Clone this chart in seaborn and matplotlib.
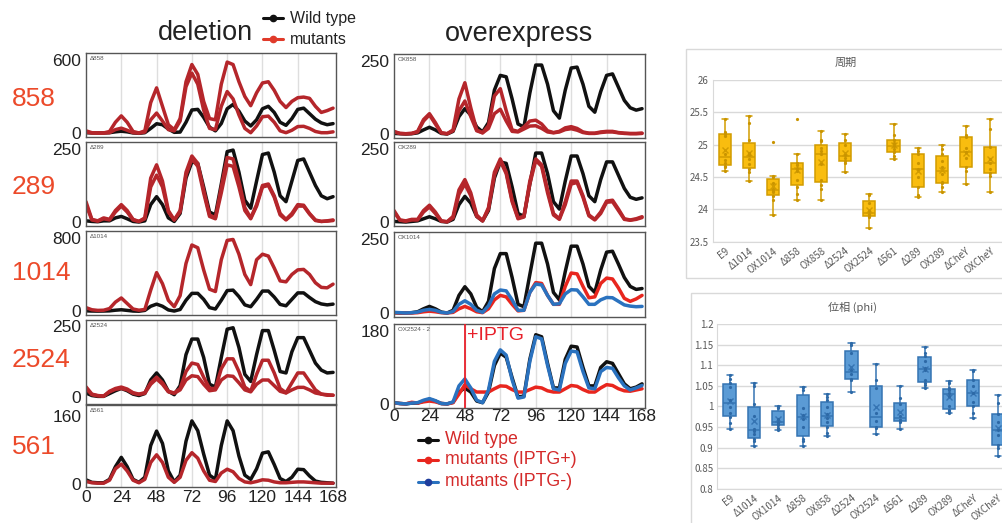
import numpy as np
import pandas as pd
import matplotlib
matplotlib.use("Agg")
import matplotlib.pyplot as plt
from matplotlib.lines import Line2D
from matplotlib.patches import Rectangle
import seaborn as sns

# ---------------- time-course data (every 4 h) ----------------
HOURS = list(range(0, 169, 4))
XTICKS = [0, 24, 48, 72, 96, 120, 144, 168]

D858_WT = [5, 3, 3, 3, 5, 12, 17, 12, 3, 0, 5, 40, 78, 70, 35, 8, 10, 90,
           190, 195, 130, 50, 20, 80, 200, 235, 180, 100, 60, 110,
           200, 220, 170, 90, 65, 120, 195, 205, 160, 115, 85, 70, 79]
D858_M1 = [20, 5, 3, 3, 15, 90, 142, 90, 15, 3, 20, 250, 370, 220, 70, 30, 120, 420,
           560, 480, 260, 120, 110, 400, 580, 560, 420, 300, 225, 330,
           410, 420, 350, 260, 210, 260, 290, 295, 285, 220, 170, 185, 205]
D858_M2 = [10, 3, 2, 2, 5, 30, 42, 25, 5, 2, 10, 110, 165, 100, 30, 20, 100, 380,
           490, 400, 190, 40, 30, 220, 340, 280, 150, 40, 5, 60,
           135, 140, 90, 20, 5, 25, 55, 57, 40, 15, 5, 5, 12]

D289_WT = [5, 3, 2, 5, 5, 15, 20, 12, 3, 1, 5, 60, 87, 60, 15, 3, 30, 150,
           205, 200, 120, 35, 25, 130, 240, 245, 170, 75, 48, 140,
           230, 235, 170, 90, 70, 140, 210, 215, 170, 125, 90, 80, 87]
D289_M1 = [70, 10, 5, 15, 10, 40, 60, 40, 10, 3, 15, 150, 195, 140, 40, 8, 40, 170,
           225, 200, 110, 25, 15, 120, 220, 215, 140, 50, 15, 60,
           125, 130, 90, 30, 10, 30, 60, 58, 30, 8, 3, 5, 8]
D289_M2 = [60, 8, 4, 12, 8, 35, 55, 35, 8, 3, 12, 120, 160, 120, 35, 8, 35, 160,
           215, 190, 100, 20, 12, 100, 195, 190, 120, 40, 12, 55,
           120, 125, 85, 25, 8, 25, 55, 55, 28, 6, 3, 4, 6]

D1014_WT = [5, 3, 2, 3, 5, 12, 17, 10, 3, 1, 10, 55, 78, 55, 15, 3, 20, 120,
            195, 195, 130, 40, 25, 120, 225, 230, 160, 70, 50, 130,
            220, 220, 155, 75, 60, 130, 200, 200, 150, 105, 80, 70, 78]
D1014_M = [40, 17, 10, 12, 30, 100, 145, 85, 25, 12, 20, 230, 420, 300, 120, 50, 170, 520,
           720, 690, 450, 240, 215, 560, 770, 780, 620, 400, 290, 560,
           620, 600, 470, 330, 320, 400, 450, 455, 400, 310, 260, 255, 295]

D2524_WT = [14, 5, 2, 2, 12, 22, 30, 22, 10, 5, 12, 60, 85, 60, 20, 8, 40, 150,
            205, 205, 140, 45, 35, 140, 240, 245, 175, 80, 55, 150,
            235, 235, 165, 90, 85, 160, 210, 210, 165, 120, 95, 85, 87]
D2524_M1 = [36, 10, 5, 3, 20, 30, 35, 28, 15, 10, 15, 50, 70, 50, 20, 14, 30, 90,
            120, 115, 70, 30, 30, 100, 135, 135, 90, 35, 20, 80,
            130, 130, 85, 30, 15, 50, 85, 85, 55, 25, 10, 6, 6]
D2524_M2 = [30, 8, 4, 3, 18, 27, 30, 25, 13, 9, 13, 45, 64, 45, 18, 13, 25, 60,
            75, 72, 45, 22, 25, 60, 75, 73, 50, 25, 18, 45,
            60, 60, 40, 20, 14, 25, 34, 34, 25, 14, 10, 8, 6]

D561_WT = [9, 3, 2, 2, 10, 40, 62, 40, 10, 3, 15, 90, 124, 95, 30, 4, 20, 100,
           148, 125, 70, 20, 10, 90, 148, 125, 65, 20, 10, 35,
           72, 75, 45, 12, 5, 15, 34, 33, 18, 6, 3, 2, 1]
D561_M = [5, 2, 1, 1, 8, 35, 46, 30, 8, 2, 10, 50, 68, 50, 15, 3, 15, 55,
          73, 60, 30, 8, 5, 25, 34, 28, 12, 4, 2, 5,
          9, 8, 4, 2, 2, 3, 4, 4, 3, 2, 1, 1, 1]

OX858_WT = [3, 2, 1, 2, 5, 15, 24, 15, 3, 1, 10, 60, 87, 65, 25, 8, 40, 150,
            200, 195, 120, 35, 25, 140, 235, 235, 170, 80, 55, 150,
            225, 228, 170, 95, 75, 145, 200, 205, 160, 115, 90, 82, 87]
OX858_M1 = [10, 3, 2, 3, 10, 50, 70, 40, 5, 2, 15, 120, 175, 90, 15, 5, 30, 130,
            155, 80, 15, 10, 25, 45, 48, 35, 12, 6, 10, 22,
            26, 20, 8, 4, 4, 8, 10, 10, 6, 4, 3, 3, 4]
OX858_M2 = [8, 3, 2, 3, 8, 45, 66, 35, 5, 2, 12, 80, 113, 60, 12, 5, 20, 70,
            85, 45, 10, 8, 18, 28, 29, 20, 8, 5, 8, 16,
            19, 14, 6, 3, 3, 6, 8, 8, 5, 3, 2, 2, 3]

OX289_WT = [3, 2, 1, 3, 5, 12, 19, 12, 3, 1, 10, 60, 88, 65, 20, 5, 40, 150,
            205, 200, 120, 30, 20, 130, 235, 235, 165, 70, 45, 140,
            225, 225, 165, 90, 70, 145, 205, 205, 160, 115, 85, 78, 83]
OX289_M1 = [40, 8, 5, 10, 10, 40, 58, 35, 5, 2, 20, 110, 145, 100, 25, 5, 50, 170,
            215, 170, 75, 15, 20, 140, 215, 195, 110, 30, 12, 70,
            140, 140, 90, 25, 10, 35, 72, 75, 45, 12, 8, 12, 19]
OX289_M2 = [35, 7, 4, 8, 8, 35, 52, 30, 4, 2, 15, 95, 130, 90, 20, 5, 45, 160,
            208, 165, 70, 12, 18, 130, 210, 190, 100, 25, 10, 60,
            130, 135, 85, 22, 8, 30, 68, 70, 40, 10, 7, 10, 16]

OX1014_WT = [2, 1, 1, 2, 5, 15, 23, 15, 4, 1, 10, 60, 89, 65, 20, 5, 40, 150,
             200, 200, 120, 30, 22, 130, 235, 235, 165, 70, 45, 140,
             225, 225, 165, 90, 70, 145, 205, 208, 165, 120, 90, 80, 83]
OX1014_PLUS = [2, 1, 1, 1, 2, 5, 7, 5, 2, 1, 3, 15, 23, 15, 5, 2, 15, 45,
               60, 55, 30, 8, 10, 70, 103, 100, 60, 30, 30, 90,
               135, 132, 90, 52, 55, 100, 118, 115, 85, 50, 40, 48, 60]
OX1014_MINUS = [3, 2, 1, 2, 4, 10, 13, 10, 3, 1, 6, 30, 42, 30, 10, 3, 25, 65,
                78, 75, 45, 10, 10, 70, 98, 95, 60, 30, 32, 65,
                79, 78, 55, 30, 30, 45, 53, 52, 40, 28, 24, 22, 23]

OX2524_WT = [4, 2, 1, 3, 3, 8, 12, 8, 2, 1, 5, 30, 40, 30, 8, 4, 30, 95,
             125, 115, 65, 18, 20, 110, 170, 165, 100, 40, 40, 110,
             142, 140, 90, 45, 45, 90, 104, 100, 75, 50, 38, 42, 50]
OX2524_PLUS = [3, 2, 1, 5, 3, 6, 8, 6, 2, 1, 4, 25, 48, 38, 30, 30, 30, 38,
               45, 44, 36, 30, 30, 36, 42, 40, 33, 30, 30, 38,
               46, 44, 36, 30, 30, 40, 48, 46, 38, 33, 32, 35, 38]
OX2524_MINUS = [4, 2, 1, 3, 4, 10, 14, 9, 2, 1, 6, 45, 62, 40, 10, 4, 35, 105,
                133, 120, 60, 15, 18, 105, 165, 160, 95, 38, 35, 100,
                130, 128, 80, 40, 38, 80, 90, 88, 65, 45, 35, 40, 46]

DEL_NAMES = ["858", "289", "1014", "2524", "561"]
DEL_MAX = [600, 250, 800, 250, 160]
OX_TAGS = ["OX858", "OX289", "OX1014", "OX2524 - 2"]
OX_MAX = [250, 250, 250, 180]

# ---------------- box-plot data ----------------
CATS = ["E9", "Δ1014", "OX1014", "Δ858", "OX858", "Δ2524", "OX2524",
        "Δ561", "Δ289", "OX289", "ΔCheY", "OXCheY"]

PER_E9 = [24.60, 24.65, 24.67, 24.72, 24.77, 24.85, 25.13, 25.17, 25.20, 25.39]
PER_D1014 = [24.44, 24.57, 24.62, 24.70, 24.78, 24.84, 24.87, 25.07, 25.33, 25.44]
PER_OX1014 = [23.92, 24.15, 24.20, 24.27, 24.29, 24.31, 24.40, 24.50, 24.51, 25.04]
PER_D858 = [24.15, 24.23, 24.35, 24.45, 24.60, 24.64, 24.68, 24.72, 24.85, 25.39]
PER_OX858 = [24.14, 24.32, 24.38, 24.46, 24.70, 24.86, 24.90, 24.95, 25.05, 25.07, 25.21]
PER_D2524 = [24.57, 24.72, 24.75, 24.80, 24.84, 25.00, 25.08, 25.17]
PER_OX2524 = [23.71, 23.88, 23.90, 23.93, 23.97, 24.10, 24.22, 24.23]
PER_D561 = [24.78, 24.82, 24.88, 24.93, 24.98, 25.02, 25.08, 25.15, 25.32]
PER_D289 = [24.19, 24.22, 24.34, 24.50, 24.62, 24.72, 24.85, 24.90, 24.95]
PER_OX289 = [24.27, 24.35, 24.40, 24.42, 24.55, 24.65, 24.75, 24.85, 24.93, 24.99]
PER_DCHEY = [24.39, 24.60, 24.66, 24.80, 24.88, 24.95, 25.12, 25.15, 25.29]
PER_OXCHEY = [24.27, 24.52, 24.56, 24.62, 24.71, 24.78, 24.97, 25.25, 25.39]

PHI_E9 = [0.946, 0.960, 0.975, 0.985, 0.998, 1.016, 1.048, 1.056, 1.066, 1.077]
PHI_D1014 = [0.904, 0.915, 0.920, 0.932, 0.940, 0.946, 0.977, 1.005, 1.050, 1.057]
PHI_OX1014 = [0.943, 0.948, 0.954, 0.958, 0.960, 0.962, 0.970, 0.995, 0.998, 1.001]
PHI_D858 = [0.904, 0.915, 0.920, 0.950, 0.970, 0.980, 0.995, 1.040, 1.046, 1.048]
PHI_OX858 = [0.929, 0.935, 0.950, 0.962, 0.972, 0.982, 0.998, 1.015, 1.022, 1.031]
PHI_D2524 = [1.034, 1.063, 1.067, 1.078, 1.088, 1.130, 1.150, 1.155]
PHI_OX2524 = [0.934, 0.948, 0.951, 0.965, 0.983, 1.045, 1.065, 1.104]
PHI_D561 = [0.944, 0.962, 0.966, 0.968, 0.976, 1.005, 1.020, 1.050]
PHI_D289 = [1.044, 1.052, 1.056, 1.064, 1.088, 1.094, 1.110, 1.123, 1.130, 1.143]
PHI_OX289 = [0.985, 0.988, 0.992, 1.000, 1.025, 1.033, 1.040, 1.044, 1.057, 1.062]
PHI_DCHEY = [0.971, 0.983, 1.002, 1.010, 1.032, 1.050, 1.064, 1.085, 1.088]
PHI_OXCHEY = [0.880, 0.900, 0.906, 0.930, 0.943, 0.962, 0.981, 1.007, 1.027]

PERIOD_TICKS = [23.5, 24, 24.5, 25, 25.5, 26]
PHI_TICKS = [0.8, 0.85, 0.9, 0.95, 1.0, 1.05, 1.1, 1.15, 1.2]

# ---------------- style ----------------
sns.set_style("white")
plt.rcParams['font.family'] = ['Liberation Sans', 'Noto Sans CJK JP', 'DejaVu Sans']
CJK = ['Noto Sans CJK JP', 'DejaVu Sans']

BLACK = "#111111"
DRED = "#b5262b"
BRED = "#e8261e"
BLUE = "#2a72bf"
LABEL_RED = "#ec4a2a"

W, H = 1003, 523
fig = plt.figure(figsize=(W / 100, H / 100), dpi=100)


def px_axes(l, t, r, b):
    return fig.add_axes([l / W, 1 - b / H, (r - l) / W, (b - t) / H])


def draw_panel(ax, series, ymax, tag, show_x, xpad, lo=0.05, hi=0.09):
    for vals, col in series:
        sns.lineplot(x=HOURS, y=vals, ax=ax, color=col, lw=2.5, legend=False)
    for g in XTICKS[1:-1]:
        ax.axvline(g, color="#dedede", lw=1, zorder=0)
    ax.set_xlim(0, 170)
    ax.set_ylim(-lo * ymax, (1 + hi) * ymax)
    ax.set_yticks([0, ymax])
    ax.set_yticklabels(["0", str(ymax)])
    ax.set_xticks(XTICKS)
    if not show_x:
        ax.set_xticklabels([])
    ax.tick_params(axis="y", length=0, labelsize=12.5, pad=3.5, colors="#222222")
    ax.tick_params(axis="x", length=0, labelsize=12.5, pad=xpad, colors="#222222")
    ax.set_xlabel("")
    ax.set_ylabel("")
    for s in ax.spines.values():
        s.set_color("#555555")
        s.set_linewidth(1)
    ax.text(0.015, 0.965, tag, transform=ax.transAxes, fontsize=4.5,
            va="top", ha="left", color="#555555")


# deletion panels
del_series = [
    [(D858_WT, BLACK), (D858_M2, DRED), (D858_M1, DRED)],
    [(D289_WT, BLACK), (D289_M2, DRED), (D289_M1, DRED)],
    [(D1014_WT, BLACK), (D1014_M, DRED)],
    [(D2524_WT, BLACK), (D2524_M2, DRED), (D2524_M1, DRED)],
    [(D561_WT, BLACK), (D561_M, DRED)],
]
del_rows = [(53, 137), (142, 226), (231, 315), (320, 404), (405, 487)]
del_lo = [0.05, 0.05, 0.05, 0.10, 0.05]
del_hi = [0.09, 0.09, 0.09, 0.09, 0.16]
label_y = [99, 187, 273, 360, 447]
for i, (t, b) in enumerate(del_rows):
    ax = px_axes(86, t, 336, b)
    draw_panel(ax, del_series[i], DEL_MAX[i], "Δ" + DEL_NAMES[i], i == 4, 2.5,
               del_lo[i], del_hi[i])
    fig.text(12 / W, 1 - label_y[i] / H, DEL_NAMES[i], fontsize=19,
             color=LABEL_RED, ha="left", va="center")

# overexpress panels
ox_series = [
    [(OX858_WT, BLACK), (OX858_M2, DRED), (OX858_M1, DRED)],
    [(OX289_WT, BLACK), (OX289_M2, DRED), (OX289_M1, DRED)],
    [(OX1014_WT, BLACK), (OX1014_PLUS, BRED), (OX1014_MINUS, BLUE)],
    [(OX2524_WT, BLACK), (OX2524_PLUS, BRED), (OX2524_MINUS, BLUE)],
]
ox_rows = [(54, 138), (142, 226), (232, 317), (324, 408)]
for i, (t, b) in enumerate(ox_rows):
    ax = px_axes(394, t, 645, b)
    draw_panel(ax, ox_series[i], OX_MAX[i], OX_TAGS[i], i == 3, 0.5)
    if i == 3:
        ax.axvline(48, color="#e8202a", lw=1.3, zorder=5)
fig.text(467 / W, 1 - 336 / H, "+IPTG", fontsize=14, color="#e8202a",
         ha="left", va="center")

# titles
fig.text(205 / W, 1 - 33 / H, "deletion", fontsize=19.5, color="#222222",
         ha="center", va="center")
fig.text(519 / W, 1 - 34 / H, "overexpress", fontsize=19.5, color="#222222",
         ha="center", va="center")


def legend_row(x0, x1, y, lcol, mcol, text, tcol, fs):
    fig.add_artist(Line2D([x0 / W, x1 / W], [1 - y / H, 1 - y / H], color=lcol,
                          lw=2.2, transform=fig.transFigure))
    fig.add_artist(Line2D([(x0 + x1) / 2 / W], [1 - y / H], color=mcol, marker="o",
                          ms=4.5, lw=0, transform=fig.transFigure))
    fig.text((x1 + 7) / W, 1 - y / H, text, fontsize=fs, color=tcol,
             ha="left", va="center")


legend_row(263, 283, 18, BLACK, BLACK, "Wild type", "#222222", 11.5)
legend_row(263, 283, 39, "#e03a2a", "#e03a2a", "mutants", "#222222", 11.5)
legend_row(418, 438, 440, BLACK, BLACK, "Wild type", "#d42a2a", 12.8)
legend_row(418, 438, 460, BRED, BRED, "mutants (IPTG+)", "#d42a2a", 12.8)
legend_row(418, 438, 482, BLUE, "#1f3d9c", "mutants (IPTG-)", "#d42a2a", 12.8)

# ---------------- box charts ----------------
fig.add_artist(Rectangle((686 / W, 1 - 278 / H), (1015 - 686) / W, (278 - 49) / H,
                         transform=fig.transFigure, fill=False, ec="#d9d9d9", lw=1))
fig.add_artist(Rectangle((691 / W, 1 - 540 / H), (1015 - 691) / W, (540 - 293) / H,
                         transform=fig.transFigure, fill=False, ec="#d9d9d9", lw=1))

period_lists = [PER_E9, PER_D1014, PER_OX1014, PER_D858, PER_OX858, PER_D2524,
                PER_OX2524, PER_D561, PER_D289, PER_OX289, PER_DCHEY, PER_OXCHEY]
phi_lists = [PHI_E9, PHI_D1014, PHI_OX1014, PHI_D858, PHI_OX858, PHI_D2524,
             PHI_OX2524, PHI_D561, PHI_D289, PHI_OX289, PHI_DCHEY, PHI_OXCHEY]


def to_df(lists):
    rows = []
    for c, vals in zip(CATS, lists):
        for v in vals:
            rows.append((c, v))
    return pd.DataFrame(rows, columns=["cat", "val"])


def box_chart(ax, df, fill, edge, pt, ticks, labels, title, title_xy):
    for tv in ticks:
        ax.axhline(tv, color="#d9d9d9", lw=1, zorder=0)
    sns.boxplot(data=df, x="cat", y="val", order=CATS, ax=ax, color=fill,
                linecolor=edge, linewidth=1.1, width=0.5, saturation=1,
                showfliers=False, showmeans=True,
                meanprops=dict(marker="x", markeredgecolor=edge, markersize=4,
                               markeredgewidth=1))
    sns.stripplot(data=df, x="cat", y="val", order=CATS, ax=ax, jitter=False,
                  size=2.3, color=pt, zorder=4)
    ax.set_xlim(-0.5, 11.5)
    ax.set_ylim(ticks[0], ticks[-1])
    ax.set_yticks(ticks)
    ax.set_yticklabels(labels, fontsize=7, color="#595959", family=CJK)
    ax.set_xticks(range(len(CATS)))
    ax.set_xticklabels(CATS, rotation=38, ha="right", rotation_mode="anchor",
                       fontsize=7, color="#595959", family=CJK)
    ax.tick_params(length=0, pad=3)
    ax.set_xlabel("")
    ax.set_ylabel("")
    for s in ["top", "right"]:
        ax.spines[s].set_visible(False)
    for s in ["left", "bottom"]:
        ax.spines[s].set_color("#d9d9d9")
    ax.patch.set_alpha(0)
    fig.text(title_xy[0] / W, 1 - title_xy[1] / H, title, fontsize=8,
             color="#595959", ha="center", va="center", family=CJK)


ax_p = px_axes(712.7, 80, 1002, 241.7)
box_chart(ax_p, to_df(period_lists), "#f9bd0f", "#d29c00", "#c99400",
          PERIOD_TICKS, ["23.5", "24", "24.5", "25", "25.5", "26"],
          "周期", (846, 63))

ax_f = px_axes(717.4, 324, 1009.9, 488.7)
box_chart(ax_f, to_df(phi_lists), "#5b9bd5", "#3574b3", "#2d69a6",
          PHI_TICKS, ["0.8", "0.85", "0.9", "0.95", "1", "1.05", "1.1", "1.15", "1.2"],
          "位相 (phi)", (852, 307))

fig.savefig("out.png", dpi=100)
